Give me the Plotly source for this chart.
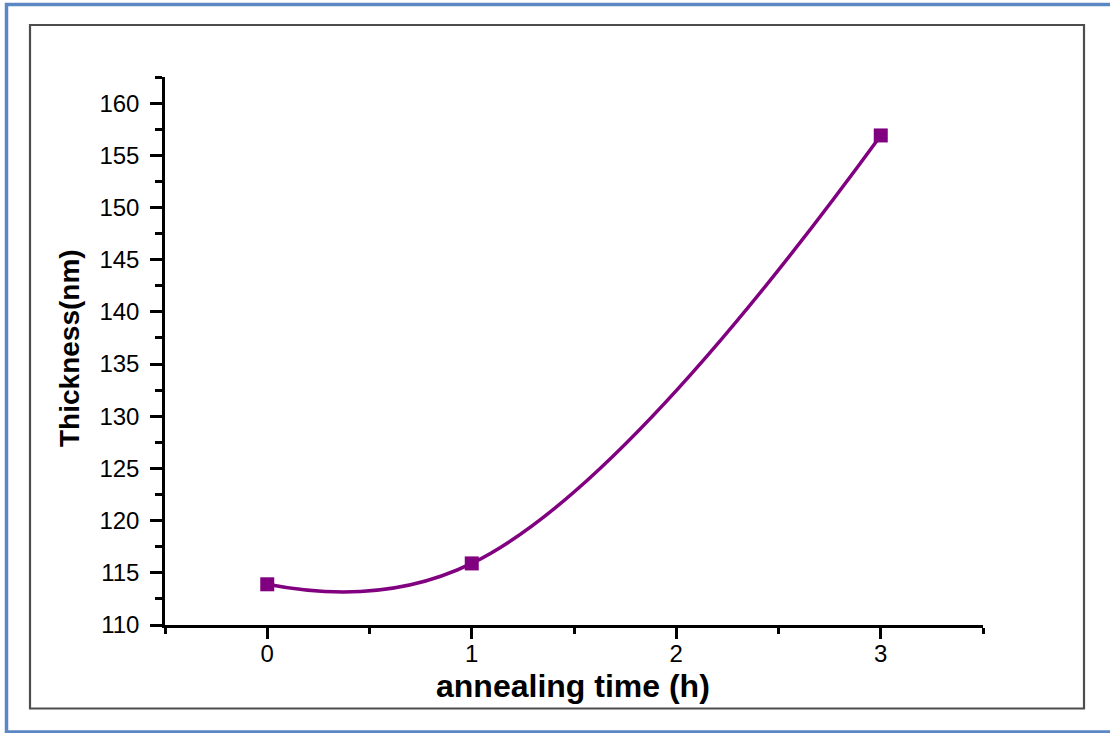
import plotly.graph_objects as go

# Film thickness versus annealing time
annealing_time_h = [0, 1, 3]
thickness_nm = [113.9, 115.9, 156.9]

x_ticks = [0, 1, 2, 3]
y_ticks = [110, 115, 120, 125, 130, 135, 140, 145, 150, 155, 160]

W, H = 1110, 733
L, R, T, B = 165, 127, 77, 108
pw, ph = W - L - R, H - T - B


def px_x(p):
    return (p - L) / pw


def px_y(p):
    return (H - B - p) / ph


fig = go.Figure()
fig.add_trace(go.Scatter(
    x=annealing_time_h,
    y=thickness_nm,
    mode="lines+markers",
    line=dict(color="#800080", width=3.5, shape="spline", smoothing=1.22),
    marker=dict(symbol="square", size=14, color="#800080"),
    showlegend=False,
    cliponaxis=False,
))

FAMILY = "Liberation Sans, Arial, sans-serif"
tick_font = dict(family=FAMILY, size=24, color="black")

fig.update_layout(
    width=W, height=H,
    margin=dict(l=L, r=R, t=T, b=B),
    paper_bgcolor="white",
    plot_bgcolor="white",
    font=dict(family=FAMILY, size=24, color="black"),
    xaxis=dict(
        range=[-0.5, 3.5],
        tickmode="array",
        tickvals=x_ticks,
        ticktext=[str(v) for v in x_ticks],
        showline=True, linecolor="black", linewidth=2.5,
        ticks="outside", ticklen=11, tickwidth=2.5, tickcolor="black",
        minor=dict(dtick=0.5, tick0=-0.5, ticks="outside", ticklen=6, tickwidth=2.5,
                   tickcolor="black", showgrid=False),
        showgrid=False, zeroline=False,
        tickfont=tick_font,
        ticklabelstandoff=-6,
    ),
    yaxis=dict(
        range=[110, 162.5],
        tickmode="array",
        tickvals=y_ticks,
        ticktext=[str(v) for v in y_ticks],
        showline=True, linecolor="black", linewidth=2.5,
        ticks="outside", ticklen=12, tickwidth=2.5, tickcolor="black",
        minor=dict(dtick=2.5, tick0=110, ticks="outside", ticklen=7, tickwidth=2.5,
                   tickcolor="black", showgrid=False),
        showgrid=False, zeroline=False,
        tickfont=tick_font,
        ticklabelstandoff=6,
    ),
    annotations=[
        dict(text="<b>annealing time (h)</b>", xref="paper", yref="paper",
             x=px_x(573), y=px_y(686), xanchor="center", yanchor="middle",
             showarrow=False, font=dict(family=FAMILY, size=32, color="black")),
        dict(text="<b>Thickness(nm)</b>", xref="paper", yref="paper",
             x=px_x(69), y=px_y(348), xanchor="center", yanchor="middle",
             textangle=-90, showarrow=False,
             font=dict(family=FAMILY, size=28, color="black")),
    ],
    shapes=[
        # outer blue border
        dict(type="rect", xref="paper", yref="paper",
             x0=px_x(6.5), x1=px_x(1113), y0=px_y(4.5), y1=px_y(732),
             line=dict(color="#5b87c5", width=3.5), layer="below"),
        # inner grey frame
        dict(type="rect", xref="paper", yref="paper",
             x0=px_x(30), x1=px_x(1084), y0=px_y(25), y1=px_y(708.5),
             line=dict(color="#4d4d4d", width=2.2), layer="below"),
    ],
)

fig.write_html("out.html")
